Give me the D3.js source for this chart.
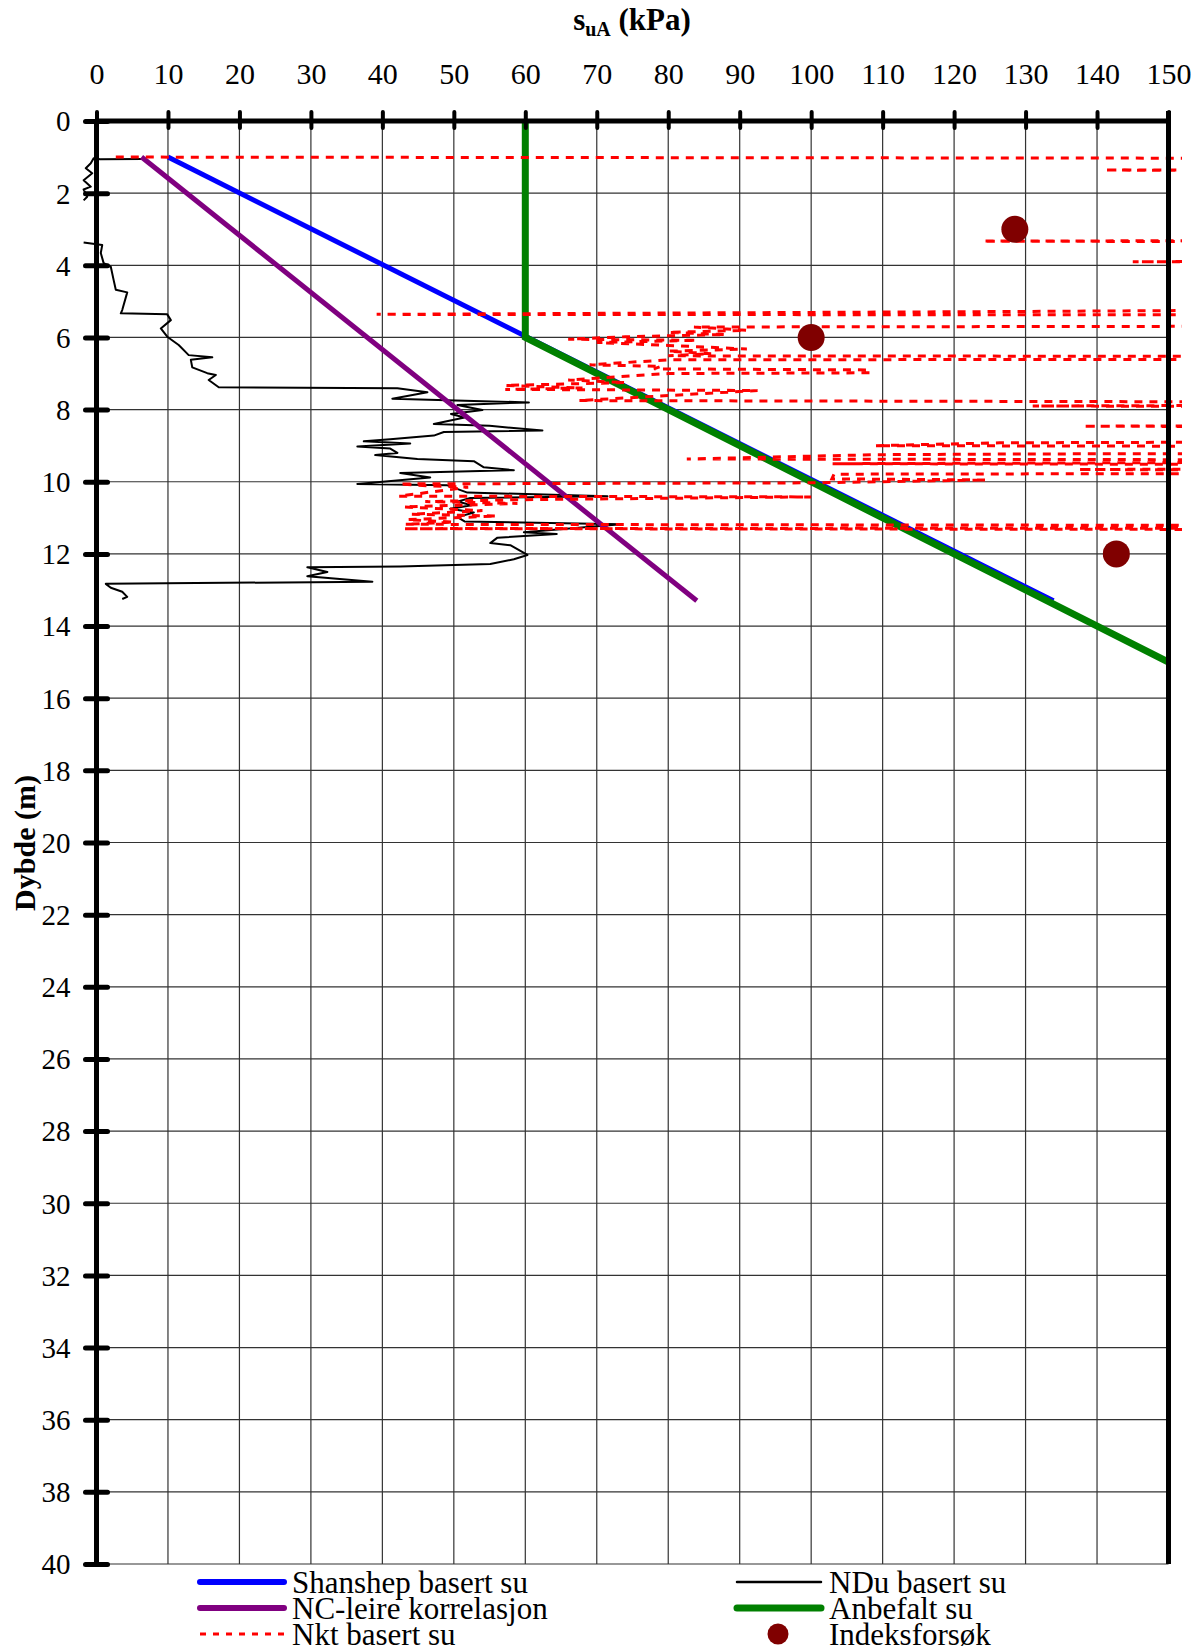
<!DOCTYPE html>
<html>
<head>
<meta charset="utf-8">
<script src="https://cdn.jsdelivr.net/npm/d3@7/dist/d3.min.js"></script>
<style>
  body { margin: 0; background: #fff; }
  svg { display: block; }
  text { font-family: "Liberation Serif", "Times New Roman", serif; fill: #000; }
</style>
</head>
<body>
<svg id="chart" width="1202" height="1649"></svg>
<script>
// ---- data ----
const suTicks = [0, 10, 20, 30, 40, 50, 60, 70, 80, 90, 100, 110, 120, 130, 140, 150];
const depthTicks = [0, 2, 4, 6, 8, 10, 12, 14, 16, 18, 20, 22, 24, 26, 28, 30, 32, 34, 36, 38, 40];

const shanshepSu = [10, 133.9];
const shanshepDepth = [1.0, 13.3];

const ncSu = [6.3, 84];
const ncDepth = [1.0, 13.3];

const anbefaltSu = [60, 60, 150];
const anbefaltDepth = [0, 6, 15];

const indeksSu = [128.5, 100, 142.7];
const indeksDepth = [3.0, 6.0, 12.0];

// NDu basert su (null = no reading)
const nduSu = [6.4, 0.5, -0.4, -0.8, -1.5, -0.6, -1.8, -0.8, -1.8, -1.3, -1.8, null,
  -1.8, 0.8, 0.6, 1.0, 2.0, 2.4, 2.7, 4.3, 3.6, 3.4, 9.9, 10.4, 9.0, 9.9, 11.5, 12.9, 16.2, 13.2,
  13.4, 15.5, 16.7, 15.7, 17.1, 42.1, 46.3, 41.4, 60.5, 50.5, 54.0, 49.6, 51.5, 47.2, 55.0, 62.4,
  48.6, 47.2, 41.1, 37.4, 43.9, 36.5, 41.1, 42.1, 39.0, 44.9, 52.8, 54.2, 58.4, 42.5, 46.7, 36.5,
  49.1, 51.9, 71.5, 52.3, 50.5, 52.5, 49.5, 52.8, 50.5, 51.5, 73.4, 59.8, 64.4, 56.1, 55.1, 57.9,
  60.3, 58.4, 55.1, 42.5, 29.5, 32.3, 29.5, 38.6, 1.3, 2.0, 3.6, 4.3, 3.6];
const nduDepth = [1.05, 1.06, 1.03, 1.17, 1.31, 1.45, 1.64, 1.82, 1.9, 2.1, 2.2, 2.8,
  3.37, 3.44, 3.66, 3.94, 4.04, 4.41, 4.68, 4.75, 5.24, 5.33, 5.36, 5.52, 5.75, 5.98, 6.21, 6.49, 6.55, 6.62,
  6.83, 6.99, 7.04, 7.18, 7.38, 7.41, 7.52, 7.7, 7.8, 7.87, 8.01, 8.12, 8.22, 8.4, 8.45, 8.58,
  8.62, 8.72, 8.82, 8.88, 8.94, 9.02, 9.08, 9.2, 9.26, 9.37, 9.43, 9.6, 9.68, 9.76, 9.88, 10.06,
  10.1, 10.3, 10.4, 10.45, 10.55, 10.65, 10.75, 10.85, 10.98, 11.1, 11.18, 11.4, 11.45, 11.55, 11.7, 11.76,
  12.03, 12.15, 12.28, 12.35, 12.37, 12.5, 12.62, 12.77, 12.83, 12.94, 13.05, 13.19, 13.25];

// Nkt basert su (many readings lie beyond 150 kPa, off the chart)
const nktSu = [2.7, 200, 200, 141, 200, 200, 124, 200, 200, 145, 200, 200, 129, 39.2, 200,
  200, 83.6, 91, 80, 88, 74, 66, 84, 70, 80, 91, 80, 86, 80, 200, 200, 80, 69, 79, 78, 108, 108.3,
  80, 72, 66, 74, 57.2, 68, 57.2, 92.5, 67.5, 200, 200, 131, 200, 200, 138, 200, 200, 126.4, 109,
  200, 200, 130.3, 109, 82.6, 200, 200, 103, 200, 200, 137.3, 200, 200, 103.2, 102.9, 124.5, 100,
  42.4, 45, 52, 42.3, 100, 58, 46, 58.9, 43, 54, 44, 56, 43.5, 50, 43.2, 200, 200, 43, 200];
const nktDepth = [1.00, 1.04, 1.33, 1.36, 1.39, 3.30, 3.33, 3.36, 3.88, 3.90, 3.93, 5.20, 5.28, 5.36, 5.38,
  5.68, 5.71, 5.80, 5.86, 5.92, 5.98, 6.05, 6.08, 6.14, 6.22, 6.32, 6.38, 6.45, 6.51, 6.53, 6.60, 6.62, 6.76, 6.80, 6.87, 6.90, 6.98,
  7.00, 7.10, 7.18, 7.25, 7.33, 7.40, 7.44, 7.47, 7.75, 7.80, 7.86, 7.90, 7.93, 8.43, 8.46, 8.49, 8.88, 8.92, 9.00,
  9.03, 9.20, 9.23, 9.25, 9.37, 9.40, 9.44, 9.50, 9.53, 9.63, 9.66, 9.70, 9.76, 9.79, 9.92, 9.95, 10.03,
  10.06, 10.10, 10.15, 10.40, 10.42, 10.50, 10.55, 10.60, 10.70, 10.80, 10.90, 10.95, 11.05, 11.12, 11.18, 11.22, 11.28, 11.30, 11.33];

const legendItems = [
  { label: 'Shanshep basert su', type: 'line', color: '#0000ff', width: 6 },
  { label: 'NDu basert su', type: 'line', color: '#000000', width: 2.5 },
  { label: 'NC-leire korrelasjon', type: 'line', color: '#800080', width: 6 },
  { label: 'Anbefalt su', type: 'line', color: '#008000', width: 7 },
  { label: 'Nkt basert su', type: 'dash', color: '#ff0000', width: 3 },
  { label: 'Indeksforsøk', type: 'dot', color: '#800000' }
];

// ---- chart ----
const svg = d3.select('#chart');
const x = d3.scaleLinear().domain([0, 150]).range([96.5, 1168.5]);
const y = d3.scaleLinear().domain([0, 40]).range([121, 1564]);

svg.append('defs').append('clipPath').attr('id', 'plotclip')
  .append('rect').attr('x', 78).attr('y', 110).attr('width', 1182 - 78).attr('height', 1570 - 110);

// grid
const grid = svg.append('g').attr('stroke', '#333').attr('stroke-width', 1.2);
grid.selectAll('.vgrid').data(suTicks.filter(d => d > 0 && d < 150)).enter().append('line')
  .attr('x1', d => x(d)).attr('x2', d => x(d)).attr('y1', y(0)).attr('y2', y(40));
grid.selectAll('.hgrid').data(depthTicks.filter(d => d > 0)).enter().append('line')
  .attr('x1', x(0)).attr('x2', x(150)).attr('y1', d => y(d)).attr('y2', d => y(d));

const line = d3.line()
  .defined(d => d[0] != null)
  .x(d => x(d[0]))
  .y(d => y(d[1]));

const plot = svg.append('g').attr('clip-path', 'url(#plotclip)');

plot.append('path').datum(d3.zip(nduSu, nduDepth))
  .attr('d', line).attr('fill', 'none').attr('stroke', '#000').attr('stroke-width', 2)
  .attr('stroke-linejoin', 'round');

plot.append('path').datum(d3.zip(shanshepSu, shanshepDepth))
  .attr('d', line).attr('fill', 'none').attr('stroke', '#0000ff').attr('stroke-width', 5);

plot.append('path').datum(d3.zip(ncSu, ncDepth))
  .attr('d', line).attr('fill', 'none').attr('stroke', '#800080').attr('stroke-width', 5);

plot.append('path').datum(d3.zip(anbefaltSu, anbefaltDepth))
  .attr('d', line).attr('fill', 'none').attr('stroke', '#008000').attr('stroke-width', 7);

plot.append('path').datum(d3.zip(nktSu, nktDepth))
  .attr('d', line).attr('fill', 'none').attr('stroke', '#ff0000').attr('stroke-width', 3)
  .attr('stroke-dasharray', '8,7');

plot.selectAll('.indeks').data(d3.zip(indeksSu, indeksDepth)).enter().append('circle')
  .attr('cx', d => x(d[0])).attr('cy', d => y(d[1])).attr('r', 13.5)
  .attr('fill', '#800000');

// axes
const xAxis = svg.append('g').attr('transform', `translate(0,${y(0)})`)
  .call(d3.axisTop(x).tickValues(suTicks).tickSize(9).tickPadding(28));
xAxis.select('.domain').remove();
xAxis.selectAll('.tick line').attr('y1', 7).attr('stroke-width', 4).attr('stroke-linecap', 'round');
xAxis.selectAll('.tick text').attr('font-size', 30).style('font-family', '"Liberation Serif", serif');

const yAxis = svg.append('g').attr('transform', `translate(${x(0)},0)`)
  .call(d3.axisLeft(y).tickValues(depthTicks).tickSize(11).tickPadding(15));
yAxis.select('.domain').remove();
yAxis.selectAll('.tick line').attr('x1', 11).attr('stroke-width', 5).attr('stroke-linecap', 'round');
yAxis.selectAll('.tick text').attr('font-size', 29).attr('dy', '0.34em').style('font-family', '"Liberation Serif", serif');

// thick frame lines: top, left, right
svg.append('line').attr('x1', x(0)).attr('x2', x(150)).attr('y1', y(0)).attr('y2', y(0))
  .attr('stroke', '#000').attr('stroke-width', 5);
svg.append('line').attr('x1', x(0)).attr('x2', x(0)).attr('y1', y(0) - 2).attr('y2', y(40))
  .attr('stroke', '#000').attr('stroke-width', 5);
svg.append('line').attr('x1', x(150)).attr('x2', x(150)).attr('y1', y(0) - 10).attr('y2', y(40))
  .attr('stroke', '#000').attr('stroke-width', 5);

// titles
const title = svg.append('text').attr('x', 632).attr('y', 30).attr('text-anchor', 'middle')
  .attr('font-size', 31).attr('font-weight', 'bold');
title.append('tspan').text('s');
title.append('tspan').attr('font-size', 20).attr('dy', 6).text('uA');
title.append('tspan').attr('dy', -6).text(' (kPa)');

svg.append('text').attr('transform', `translate(35,843) rotate(-90)`)
  .attr('text-anchor', 'middle').attr('font-size', 30).attr('font-weight', 'bold')
  .text('Dybde (m)');

// legend
const legendCols = [200, 737];
const legendRows = [1582, 1608, 1634];
const legend = svg.append('g');
legendItems.forEach((item, i) => {
  const lx = legendCols[i % 2];
  const ly = legendRows[Math.floor(i / 2)];
  const g = legend.append('g').attr('transform', `translate(${lx},${ly})`);
  if (item.type === 'dot') {
    g.append('circle').attr('cx', 41).attr('cy', 0).attr('r', 10.5).attr('fill', item.color);
  } else {
    g.append('line').attr('x1', 0).attr('x2', 84).attr('y1', 0).attr('y2', 0)
      .attr('stroke', item.color).attr('stroke-width', item.width)
      .attr('stroke-linecap', item.type === 'dash' ? 'butt' : 'round')
      .attr('stroke-dasharray', item.type === 'dash' ? '6,7' : null);
  }
  g.append('text').attr('x', 92).attr('y', 11).attr('font-size', 31).text(item.label);
});
</script>
</body>
</html>
